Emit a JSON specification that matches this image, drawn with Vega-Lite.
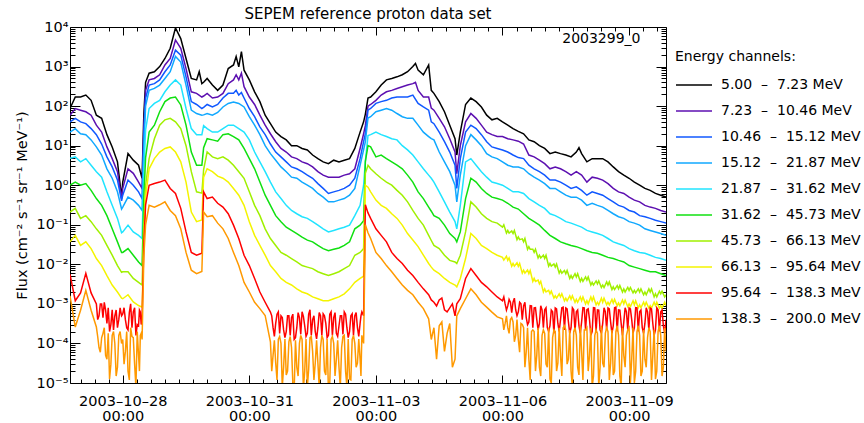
{
"$schema": "https://vega.github.io/schema/vega-lite/v6.json",
"width": 596, "height": 356,
"autosize": {"type": "none"},
"padding": {"left": 70, "top": 27, "right": 198, "bottom": 40},
"background": "white",
"title": {"text": "SEPEM reference proton data set", "fontSize": 15, "fontWeight": "normal", "color": "#000", "offset": -3, "anchor": "middle", "font": "DejaVu Sans"},
"config": {"font": "DejaVu Sans", "view": {"stroke": "#000", "strokeWidth": 1}, "axis": {"tickColor": "#000", "labelColor": "#000", "titleColor": "#000", "tickWidth": 1}},
"datasets": {
"channels": [
{"code":"a","name":"5.00\u00a0 –\u00a0 7.23 MeV"},
{"code":"b","name":"7.23\u00a0 –\u00a0 10.46 MeV"},
{"code":"c","name":"10.46\u00a0 –\u00a0 15.12 MeV"},
{"code":"d","name":"15.12\u00a0 –\u00a0 21.87 MeV"},
{"code":"e","name":"21.87\u00a0 –\u00a0 31.62 MeV"},
{"code":"f","name":"31.62\u00a0 –\u00a0 45.73 MeV"},
{"code":"g","name":"45.73\u00a0 –\u00a0 66.13 MeV"},
{"code":"h","name":"66.13\u00a0 –\u00a0 95.64 MeV"},
{"code":"i","name":"95.64\u00a0 –\u00a0 138.3 MeV"},
{"code":"j","name":"138.3\u00a0 –\u00a0 200.0 MeV"}
],
"tag": [{"t":"2003-11-09T06:30Z","v":5000,"label":"2003299_0"}],
"flux": [
{"t":"2003-10-26T18:00Z","a":87,"b":59,"c":40,"d":22,"e":4.8,"f":1.0,"g":0.21,"h":0.037,"i":0.0056,"j":0.0016},
{"t":"2003-10-26T21:00Z","a":170,"b":87,"c":49,"d":27,"e":5.2,"f":1.2,"g":0.26,"h":0.054,"i":0.0012,"j":0.00026},
{"t":"2003-10-27T00:00Z","a":170,"b":79,"c":40,"d":20,"e":3.9,"f":1.0,"g":0.145,"h":0.030,"i":0.0019,"j":0.00069},
{"t":"2003-10-27T03:00Z","a":190,"b":72,"c":36,"d":19,"e":4.7,"f":1.1,"g":0.17,"h":0.037,"i":0.0059,"j":0.0022},
{"t":"2003-10-27T06:00Z","a":140,"b":59,"c":27,"d":14,"e":3.2,"f":0.74,"g":0.12,"h":0.025,"i":0.0019,"j":0.00069},
{"t":"2003-10-27T09:00Z","a":59,"b":33,"c":19,"d":9.3,"e":2.2,"f":0.46,"g":0.079,"h":0.014,"i":0.001,"j":0.00026},
{"t":"2003-10-27T10:30Z","i":5.0e-4,"j":7.9e-5},
{"t":"2003-10-27T12:00Z","a":49,"b":22,"c":11,"d":5.8,"e":1.6,"f":0.31,"g":0.054,"h":0.0093,"i":0.001,"j":1.4e-4},
{"t":"2003-10-27T13:30Z","i":1.1e-3,"j":2.5e-4},
{"t":"2003-10-27T15:00Z","a":19,"b":9.3,"c":5.2,"d":2.6,"e":0.68,"f":0.17,"g":0.030,"h":0.0052,"i":3.2e-4,"j":4.0e-5},
{"t":"2003-10-27T16:30Z","i":2.0e-4,"j":1.26e-5},
{"t":"2003-10-27T18:00Z","a":9.3,"b":4.7,"c":2.9,"d":1.5,"e":0.31,"f":0.079,"g":0.017,"h":0.003,"i":7.1e-4,"j":1.6e-4},
{"t":"2003-10-27T19:30Z","i":5.0e-4,"j":1.0e-4},
{"t":"2003-10-27T21:00Z","a":3.9,"b":2.2,"c":1.35,"d":0.68,"e":0.145,"f":0.037,"g":0.0093,"h":0.002,"i":2.5e-4,"j":2.5e-5},
{"t":"2003-10-27T22:30Z","i":7.9e-4,"j":2.0e-4},
{"t":"2003-10-27T23:20Z","a":0.5,"b":0.46,"c":0.4,"d":0.25,"e":0.063,"f":0.02,"g":0.0063,"h":0.0014,"i":5.0e-4,"j":1.0e-4},
{"t":"2003-10-28T00:00Z","a":1.2,"b":0.83,"c":0.56,"d":0.28,"e":0.066,"f":0.02,"g":0.0065,"h":0.00135,"i":5.6e-4,"j":1.26e-4},
{"t":"2003-10-28T01:30Z","i":4.0e-4,"j":6.3e-5},
{"t":"2003-10-28T03:00Z","a":6.3,"b":2.6,"c":1.35,"d":0.5,"e":0.098,"f":0.025,"g":0.0065,"h":0.0017,"i":2.2e-4,"j":2.0e-5},
{"t":"2003-10-28T04:30Z","i":1.0e-3,"j":2.5e-4},
{"t":"2003-10-28T06:00Z","a":4.3,"b":2.0,"c":1.0,"d":0.42,"e":0.066,"f":0.017,"g":0.0044,"h":0.00112,"i":6.3e-4,"j":1.4e-4},
{"t":"2003-10-28T07:30Z","i":1.6e-4,"j":7.9e-6},
{"t":"2003-10-28T09:00Z","a":3.2,"b":1.2,"c":0.68,"d":0.31,"e":0.054,"f":0.0115,"g":0.0035,"h":9.1e-4,"i":2.8e-4,"j":5.0e-5},
{"t":"2003-10-28T10:00Z","i":6.3e-4,"j":1.6e-4},
{"t":"2003-10-28T11:00Z","a":1.5,"b":0.83,"c":0.46,"d":0.23,"e":0.045,"f":0.0093,"g":0.003,"h":8.3e-4,"i":4.5e-4,"j":1.26e-4},
{"t":"2003-10-28T12:00Z","a":63,"b":32,"c":20,"d":10,"e":2.5,"f":0.5,"g":0.1,"h":0.032,"i":0.032,"j":0.016},
{"t":"2003-10-28T13:00Z","a":400,"b":250,"c":160,"d":100,"e":25,"f":5.0,"g":1.0,"h":0.5,"i":0.32,"j":0.1},
{"t":"2003-10-28T15:00Z","a":680,"b":460,"c":340,"d":250,"e":87,"f":22,"g":4.7,"h":2.6,"i":1.0,"j":0.31},
{"t":"2003-10-28T18:00Z","a":740,"b":500,"c":370,"d":280,"e":117,"f":33,"g":15,"h":4.7,"i":1.1,"j":0.28},
{"t":"2003-10-28T21:00Z","a":1000,"b":620,"c":460,"d":340,"e":140,"f":72,"g":33,"h":6.9,"i":1.2,"j":0.32},
{"t":"2003-10-29T00:00Z","a":1600,"b":1100,"c":740,"d":500,"e":230,"f":130,"g":45,"h":8.5,"i":1.35,"j":0.38},
{"t":"2003-10-29T03:00Z","a":2900,"b":1600,"c":1100,"d":740,"e":340,"f":160,"g":49,"h":9.3,"i":0.83,"j":0.23},
{"t":"2003-10-29T06:00Z","a":9500,"b":4700,"c":2600,"d":1800,"e":460,"f":170,"g":40,"h":6.9,"i":0.62,"j":0.17},
{"t":"2003-10-29T09:00Z","a":5100,"b":2900,"c":1950,"d":1300,"e":340,"f":107,"g":27,"h":3.9,"i":0.26,"j":0.079},
{"t":"2003-10-29T12:00Z","a":1600,"b":890,"c":550,"d":340,"e":87,"f":33,"g":10,"h":1.2,"i":0.066,"j":0.02},
{"t":"2003-10-29T15:00Z","a":500,"b":230,"c":130,"d":79,"e":27,"f":6.9,"g":2.2,"h":0.21,"i":0.02,"j":0.0071},
{"t":"2003-10-29T18:00Z","a":460,"b":210,"c":110,"d":65,"e":19,"f":3.2,"g":0.68,"h":0.12,"i":0.017,"j":0.0058},
{"t":"2003-10-29T19:30Z","a":740},
{"t":"2003-10-29T21:00Z","a":370,"b":170,"c":87,"d":59,"e":19,"f":3.2,"g":0.63,"h":0.132,"i":0.019,"j":0.0066},
{"t":"2003-10-29T22:00Z","a":400,"b":180,"c":93,"d":60,"e":32,"f":8.9,"g":2.5,"h":1.6,"i":0.68,"j":0.21},
{"t":"2003-10-30T00:00Z","a":500,"b":210,"c":110,"d":65,"e":27,"f":15,"g":6.9,"h":2.6,"i":0.46,"j":0.16},
{"t":"2003-10-30T03:00Z","a":340,"b":160,"c":95,"d":59,"e":22,"f":14,"g":5.2,"h":2.2,"i":0.5,"j":0.17},
{"t":"2003-10-30T06:00Z","a":250,"b":170,"c":110,"d":69,"e":22,"f":13,"g":4.7,"h":1.7,"i":0.35,"j":0.11},
{"t":"2003-10-30T09:00Z","a":340,"b":210,"c":160,"d":95,"e":27,"f":19,"g":5.2,"h":1.5,"i":0.28,"j":0.079},
{"t":"2003-10-30T12:00Z","a":890,"b":370,"c":210,"d":117,"e":33,"f":20,"g":4.3,"h":1.2,"i":0.19,"j":0.045},
{"t":"2003-10-30T15:00Z","a":1100,"b":460,"c":210,"d":126,"e":33,"f":17,"g":3.2,"h":0.83,"i":0.098,"j":0.02},
{"t":"2003-10-30T16:30Z","a":1800,"b":620,"c":250},
{"t":"2003-10-30T18:00Z","a":980,"b":460,"c":190,"d":117,"e":27,"f":14,"g":2.2,"h":0.56,"i":0.045,"j":0.0093},
{"t":"2003-10-30T19:30Z","a":2400,"b":680,"c":220},
{"t":"2003-10-30T21:00Z","a":810,"b":310,"c":160,"d":95,"e":22,"f":8.5,"g":1.5,"h":0.31,"i":0.017,"j":0.0035},
{"t":"2003-10-31T00:00Z","a":460,"b":170,"c":87,"d":54,"e":14,"f":4.7,"g":0.68,"h":0.12,"i":0.0093,"j":0.002},
{"t":"2003-10-31T03:00Z","a":230,"b":110,"c":54,"d":33,"e":6.9,"f":2.6,"g":0.31,"h":0.054,"i":0.0044,"j":0.0011},
{"t":"2003-10-31T06:00Z","a":130,"b":59,"c":30,"d":19,"e":3.9,"f":1.2,"g":0.17,"h":0.030,"i":0.002,"j":7.6e-4},
{"t":"2003-10-31T09:00Z","a":59,"b":33,"c":19,"d":10,"e":2.2,"f":0.56,"g":0.079,"h":0.017,"i":0.0011,"j":5.1e-4},
{"t":"2003-10-31T12:00Z","a":36,"b":20,"c":11,"d":6.3,"e":1.2,"f":0.31,"g":0.045,"h":0.0093,"i":6.2e-4,"j":1.1e-4},
{"t":"2003-10-31T13:30Z","i":2.5e-4,"j":5.0e-5},
{"t":"2003-10-31T15:00Z","a":22,"b":12.6,"c":6.9,"d":4.3,"e":0.68,"f":0.17,"g":0.030,"h":0.0065,"i":3.2e-4,"j":3.2e-5},
{"t":"2003-10-31T16:30Z","i":6.3e-4,"j":1.26e-4},
{"t":"2003-10-31T18:00Z","a":17,"b":8.5,"c":5.2,"d":2.9,"e":0.46,"f":0.12,"g":0.020,"h":0.0044,"i":5.0e-4,"j":1.0e-4},
{"t":"2003-10-31T19:30Z","i":2.2e-4,"j":2.5e-5},
{"t":"2003-10-31T21:00Z","a":14,"b":6.9,"c":3.9,"d":2.2,"e":0.31,"f":0.087,"g":0.017,"h":0.0035,"i":2.0e-4,"j":1.6e-5},
{"t":"2003-10-31T22:30Z","i":5.0e-4,"j":1.1e-4},
{"t":"2003-11-01T00:00Z","a":10,"b":5.2,"c":2.9,"d":1.6,"e":0.23,"f":0.072,"g":0.014,"h":0.003,"i":4.5e-4,"j":7.9e-5},
{"t":"2003-11-01T01:30Z","i":1.26e-4,"j":6.3e-6},
{"t":"2003-11-01T03:00Z","a":10,"b":4.7,"c":2.6,"d":1.5,"e":0.19,"f":0.06,"g":0.0115,"h":0.0024,"i":2.5e-4,"j":2.5e-5},
{"t":"2003-11-01T04:30Z","i":4.5e-4,"j":1.0e-4},
{"t":"2003-11-01T06:00Z","a":8.5,"b":3.9,"c":2.2,"d":1.2,"e":0.16,"f":0.049,"g":0.0093,"h":0.002,"i":6.3e-4,"j":1.26e-4},
{"t":"2003-11-01T07:30Z","i":2.8e-4,"j":2.0e-5},
{"t":"2003-11-01T09:00Z","a":7.8,"b":3.5,"c":1.8,"d":1.0,"e":0.145,"f":0.041,"g":0.0085,"h":0.0018,"i":1.8e-4,"j":7.9e-6},
{"t":"2003-11-01T10:30Z","i":7.1e-4,"j":1.4e-4},
{"t":"2003-11-01T12:00Z","a":5.8,"b":2.9,"c":1.5,"d":0.83,"e":0.12,"f":0.037,"g":0.0078,"h":0.0015,"i":4.0e-4,"j":6.3e-5},
{"t":"2003-11-01T13:30Z","i":2.0e-4,"j":3.2e-5},
{"t":"2003-11-01T15:00Z","a":4.7,"b":2.2,"c":1.1,"d":0.62,"e":0.098,"f":0.030,"g":0.0065,"h":0.00135,"i":2.5e-4,"j":3.2e-5},
{"t":"2003-11-01T16:30Z","i":5.0e-4,"j":7.9e-5},
{"t":"2003-11-01T18:00Z","a":3.9,"b":1.8,"c":0.83,"d":0.5,"e":0.079,"f":0.025,"g":0.0058,"h":0.0012,"i":5.6e-4,"j":1.26e-4},
{"t":"2003-11-01T19:30Z","i":3.2e-4,"j":1.6e-5},
{"t":"2003-11-01T21:00Z","a":3.5,"b":1.6,"c":0.62,"d":0.38,"e":0.066,"f":0.022,"g":0.0052,"h":0.0012,"i":1.6e-4,"j":6.3e-6},
{"t":"2003-11-01T22:30Z","i":6.3e-4,"j":1.26e-4},
{"t":"2003-11-02T00:00Z","a":4.3,"b":1.6,"c":0.68,"d":0.38,"e":0.072,"f":0.024,"g":0.0058,"h":0.00135,"i":4.5e-4,"j":1.0e-4},
{"t":"2003-11-02T01:30Z","i":1.8e-4,"j":4.0e-5},
{"t":"2003-11-02T03:00Z","a":3.9,"b":1.6,"c":0.74,"d":0.42,"e":0.079,"f":0.026,"g":0.0065,"h":0.0015,"i":2.8e-4,"j":2.5e-5},
{"t":"2003-11-02T04:30Z","i":5.0e-4,"j":7.9e-5},
{"t":"2003-11-02T06:00Z","a":4.3,"b":1.8,"c":0.83,"d":0.46,"e":0.087,"f":0.030,"g":0.0078,"h":0.0018,"i":6.3e-4,"j":1.6e-4},
{"t":"2003-11-02T07:30Z","i":2.5e-4,"j":7.9e-6},
{"t":"2003-11-02T09:00Z","a":4.7,"b":1.95,"c":1.0,"d":0.56,"e":0.098,"f":0.037,"g":0.0093,"h":0.0024,"i":2.0e-4,"j":1.26e-5},
{"t":"2003-11-02T10:30Z","i":5.6e-4,"j":1.26e-4},
{"t":"2003-11-02T12:00Z","a":8.5,"b":2.6,"c":1.5,"d":0.83,"e":0.17,"f":0.079,"g":0.017,"h":0.0035,"i":5.0e-4,"j":1.0e-4},
{"t":"2003-11-02T13:30Z","i":2.5e-4,"j":3.2e-5},
{"t":"2003-11-02T15:00Z","a":22,"b":8.5,"c":4.7,"d":3.2,"e":0.31,"f":0.098,"g":0.020,"h":0.0044,"i":3.2e-4,"j":4.0e-5},
{"t":"2003-11-02T16:00Z","i":6.3e-4,"j":1.6e-4},
{"t":"2003-11-02T17:00Z","a":40,"b":20,"c":12.6,"d":7.9,"e":1.0,"f":0.126,"g":0.025,"h":0.005,"i":5.0e-4,"j":1.0e-4},
{"t":"2003-11-02T18:00Z","a":63,"b":32,"c":20,"d":12.6,"e":4.0,"f":4.0,"g":2.0,"h":1.0,"i":0.32,"j":0.1},
{"t":"2003-11-02T19:30Z","a":160,"b":100,"c":79,"d":50,"e":18,"f":10,"g":3.2,"h":0.89,"i":0.2,"j":0.063},
{"t":"2003-11-02T21:00Z","a":170,"b":110,"c":87,"d":54,"e":19,"f":9.3,"g":2.6,"h":0.68,"i":0.145,"j":0.045},
{"t":"2003-11-03T00:00Z","a":230,"b":140,"c":117,"d":72,"e":22,"f":5.2,"g":1.95,"h":0.42,"i":0.079,"j":0.02},
{"t":"2003-11-03T03:00Z","a":340,"b":190,"c":130,"d":79,"e":19,"f":5.8,"g":1.5,"h":0.31,"i":0.054,"j":0.014},
{"t":"2003-11-03T06:00Z","a":460,"b":230,"c":140,"d":87,"e":17,"f":4.7,"g":1.2,"h":0.26,"i":0.037,"j":0.0093},
{"t":"2003-11-03T09:00Z","a":500,"b":250,"c":160,"d":79,"e":15,"f":3.9,"g":1.0,"h":0.19,"i":0.02,"j":0.0065},
{"t":"2003-11-03T12:00Z","a":550,"b":280,"c":170,"d":65,"e":14,"f":3.2,"g":0.74,"h":0.145,"i":0.014,"j":0.0044},
{"t":"2003-11-03T15:00Z","a":620,"b":310,"c":170,"d":54,"e":10,"f":2.6,"g":0.56,"h":0.098,"i":0.0105,"j":0.003},
{"t":"2003-11-03T18:00Z","a":740,"b":340,"c":170,"d":49,"e":7.8,"f":1.8,"g":0.38,"h":0.06,"i":0.0071,"j":0.0022},
{"t":"2003-11-03T21:00Z","a":1000,"b":370,"c":190,"d":49,"e":5.8,"f":1.2,"g":0.23,"h":0.041,"i":0.0052,"j":0.0017},
{"t":"2003-11-03T22:30Z","a":1200,"b":400},
{"t":"2003-11-04T00:00Z","a":810,"b":250,"c":117,"d":33,"e":3.9,"f":0.68,"g":0.145,"h":0.028,"i":0.0035,"j":0.0011},
{"t":"2003-11-04T03:00Z","a":620,"b":170,"c":95,"d":22,"e":2.6,"f":0.46,"g":0.098,"h":0.017,"i":0.0024,"j":7.6e-4},
{"t":"2003-11-04T06:00Z","a":1100,"b":170,"c":79,"d":17,"e":1.8,"f":0.28,"g":0.054,"h":0.0105,"i":0.0017,"j":4.2e-4},
{"t":"2003-11-04T07:30Z","a":250,"b":89,"c":40,"d":15,"e":1.5,"f":0.22,"g":0.040,"h":0.0085,"i":0.00126,"j":1.26e-4},
{"t":"2003-11-04T09:00Z","a":210,"b":79,"c":36,"d":14,"e":1.2,"f":0.17,"g":0.030,"h":0.0071,"i":0.0011,"j":2.5e-4},
{"t":"2003-11-04T10:30Z","i":8.9e-4,"j":4.0e-5},
{"t":"2003-11-04T12:00Z","a":130,"b":49,"c":22,"d":6.9,"e":0.68,"f":0.145,"g":0.025,"h":0.0058,"i":0.00126,"j":2.8e-4},
{"t":"2003-11-04T13:30Z","i":0.0014,"j":3.5e-4},
{"t":"2003-11-04T15:00Z","a":72,"b":30,"c":12.6,"d":3.9,"e":0.38,"f":0.098,"g":0.017,"h":0.0044,"i":7.1e-4,"j":6.3e-5},
{"t":"2003-11-04T16:30Z","i":6.3e-4,"j":1.8e-4},
{"t":"2003-11-04T18:00Z","a":33,"b":15,"c":6.9,"d":2.2,"e":0.21,"f":0.06,"g":0.0126,"h":0.0035,"i":7.9e-4,"j":3.2e-4},
{"t":"2003-11-04T19:30Z","i":0.001,"j":2.5e-5},
{"t":"2003-11-04T21:00Z","a":15,"b":6.9,"c":3.2,"d":1.0,"e":0.12,"f":0.045,"g":0.0115,"h":0.003,"i":5.0e-4,"j":4.0e-5},
{"t":"2003-11-04T22:00Z","a":5.8,"b":1.95,"c":0.83,"d":0.38,"e":0.079,"f":0.037,"g":0.0105,"h":0.0027,"i":0.001,"j":5.0e-4},
{"t":"2003-11-05T00:00Z","a":22,"b":10,"c":4.7,"d":1.8,"e":0.31,"f":0.066,"g":0.017,"h":0.0044,"i":0.00135,"j":7.6e-4},
{"t":"2003-11-05T03:00Z","a":110,"b":40,"c":22,"d":10,"e":3.9,"f":0.46,"g":0.066,"h":0.014,"i":0.0044,"j":0.00135},
{"t":"2003-11-05T06:00Z","a":160,"b":65,"c":33,"d":19,"e":4.7,"f":1.5,"g":0.38,"h":0.06,"i":0.0078,"j":0.0024},
{"t":"2003-11-05T09:00Z","a":130,"b":49,"c":27,"d":14,"e":3.2,"f":1.2,"g":0.28,"h":0.045,"i":0.0052,"j":0.0017},
{"t":"2003-11-05T12:00Z","a":95,"b":33,"c":19,"d":10,"e":2.2,"f":0.83,"g":0.19,"h":0.03,"i":0.0035,"j":0.0011},
{"t":"2003-11-05T15:00Z","a":59,"b":22,"c":12.6,"d":6.3,"e":1.6,"f":0.62,"g":0.145,"h":0.025,"i":0.0027,"j":8.3e-4},
{"t":"2003-11-05T18:00Z","a":45,"b":19,"c":9.3,"d":5.2,"e":1.2,"f":0.5,"g":0.12,"h":0.02,"i":0.002,"j":6.2e-4},
{"t":"2003-11-05T21:00Z","a":49,"b":17,"c":8.5,"d":4.7,"e":1.1,"f":0.46,"g":0.11,"h":0.017,"i":0.0015,"j":4.7e-4},
{"t":"2003-11-06T00:00Z","a":40,"b":17,"c":7.8,"d":3.9,"e":1.0,"f":0.42,"g":0.087,"h":0.015,"i":0.0012,"j":4.2e-4},
{"t":"2003-11-06T01:30Z","i":0.001,"j":3.2e-4},
{"t":"2003-11-06T03:00Z","a":33,"b":15,"c":6.9,"d":3.2,"e":0.83,"f":0.35,"g":0.072,"h":0.0126,"i":8.9e-4,"j":2.5e-4},
{"t":"2003-11-06T04:30Z","i":0.0011,"j":4.0e-4},
{"t":"2003-11-06T06:00Z","a":27,"b":14,"c":5.8,"d":2.9,"e":0.68,"f":0.28,"g":0.06,"h":0.0105,"i":0.0011,"j":3.5e-4},
{"t":"2003-11-06T07:30Z","i":7.1e-4,"j":1.6e-4},
{"t":"2003-11-06T09:00Z","a":23,"b":13,"c":5.0,"d":2.9,"e":0.68,"f":0.25,"g":0.049,"h":0.0089,"i":6.3e-4,"j":1.26e-4},
{"t":"2003-11-06T10:30Z","i":0.001,"j":3.2e-4},
{"t":"2003-11-06T12:00Z","a":20,"b":11,"c":4.7,"d":2.6,"e":0.62,"f":0.19,"g":0.037,"h":0.0071,"i":8.9e-4,"j":2.5e-4},
{"t":"2003-11-06T13:30Z","i":4.5e-4,"j":6.3e-5},
{"t":"2003-11-06T15:00Z","a":14,"b":5.8,"c":3.2,"d":1.95,"e":0.46,"f":0.145,"g":0.028,"h":0.0058,"i":3.5e-4,"j":4.0e-5},
{"t":"2003-11-06T16:30Z","i":8.9e-4,"j":2.0e-4},
{"t":"2003-11-06T18:00Z","a":12.6,"b":5.2,"c":2.6,"d":1.6,"e":0.38,"f":0.12,"g":0.02,"h":0.0044,"i":7.9e-4,"j":2.0e-4},
{"t":"2003-11-06T19:30Z","i":4.0e-4,"j":5.0e-5},
{"t":"2003-11-06T21:00Z","a":10,"b":4.3,"c":2.2,"d":1.35,"e":0.31,"f":0.098,"g":0.017,"h":0.0032,"i":3.2e-4,"j":2.5e-5},
{"t":"2003-11-06T22:30Z","i":7.1e-4,"j":1.6e-4},
{"t":"2003-11-07T00:00Z","a":8.5,"b":3.5,"c":1.8,"d":1.1,"e":0.26,"f":0.072,"g":0.014,"h":0.0024,"i":7.1e-4,"j":1.8e-4},
{"t":"2003-11-07T01:30Z","i":2.5e-4,"j":2.5e-5},
{"t":"2003-11-07T03:00Z","a":6.3,"b":2.6,"c":1.35,"d":0.83,"e":0.19,"f":0.054,"g":0.0105,"h":0.0018,"i":2.8e-4,"j":1.26e-5},
{"t":"2003-11-07T04:30Z","i":6.3e-4,"j":1.4e-4},
{"t":"2003-11-07T06:00Z","a":6.9,"b":2.9,"c":1.35,"d":0.83,"e":0.17,"f":0.045,"g":0.0085,"h":0.0016,"i":7.9e-4,"j":2.0e-4},
{"t":"2003-11-07T07:30Z","i":3.2e-4,"j":3.2e-5},
{"t":"2003-11-07T09:00Z","a":6.3,"b":2.6,"c":1.2,"d":0.68,"e":0.145,"f":0.037,"g":0.0071,"h":0.0015,"i":4.0e-4,"j":5.0e-5},
{"t":"2003-11-07T10:30Z","i":8.3e-4,"j":2.5e-4},
{"t":"2003-11-07T12:00Z","a":5.8,"b":2.2,"c":1.0,"d":0.56,"e":0.12,"f":0.033,"g":0.0058,"h":0.0014,"i":7.9e-4,"j":2.2e-4},
{"t":"2003-11-07T13:30Z","i":3.5e-4,"j":4.0e-5},
{"t":"2003-11-07T15:00Z","a":5.2,"b":1.8,"c":0.83,"d":0.5,"e":0.11,"f":0.03,"g":0.0052,"h":0.0013,"i":2.5e-4,"j":2.0e-5},
{"t":"2003-11-07T16:30Z","i":7.1e-4,"j":2.0e-4},
{"t":"2003-11-07T18:00Z","a":6.9,"b":2.2,"c":0.91,"d":0.5,"e":0.098,"f":0.028,"g":0.0048,"h":0.0013,"i":6.3e-4,"j":1.6e-4},
{"t":"2003-11-07T19:30Z","a":8.9,"i":2.8e-4,"j":1.6e-5},
{"t":"2003-11-07T21:00Z","a":6.3,"b":1.8,"c":0.74,"d":0.42,"e":0.087,"f":0.025,"g":0.0044,"h":0.0012,"i":3.5e-4,"j":6.3e-5},
{"t":"2003-11-07T22:30Z","i":7.9e-4,"j":2.2e-4},
{"t":"2003-11-08T00:00Z","a":3.9,"b":1.2,"c":0.56,"d":0.31,"e":0.072,"f":0.022,"g":0.004,"h":0.0012,"i":7.1e-4,"j":2.5e-4},
{"t":"2003-11-08T01:30Z","i":4.0e-4,"j":5.0e-5},
{"t":"2003-11-08T03:00Z","a":4.7,"b":1.6,"c":0.68,"d":0.35,"e":0.066,"f":0.02,"g":0.0035,"h":0.0012,"i":2.0e-4,"j":7.9e-6},
{"t":"2003-11-08T04:30Z","i":7.9e-4,"j":1.6e-4},
{"t":"2003-11-08T06:00Z","a":4.7,"b":1.5,"c":0.62,"d":0.31,"e":0.06,"f":0.019,"g":0.0032,"h":0.0011,"i":7.1e-4,"j":1.8e-4},
{"t":"2003-11-08T07:30Z","i":2.2e-4,"j":2.5e-5},
{"t":"2003-11-08T09:00Z","a":4.7,"b":1.35,"c":0.56,"d":0.28,"e":0.054,"f":0.017,"g":0.003,"h":0.0011,"i":3.2e-4,"j":3.2e-5},
{"t":"2003-11-08T10:30Z","i":6.3e-4,"j":1.8e-4},
{"t":"2003-11-08T12:00Z","a":3.9,"b":1.1,"c":0.46,"d":0.23,"e":0.045,"f":0.015,"g":0.003,"h":0.0011,"i":7.9e-4,"j":2.0e-4},
{"t":"2003-11-08T13:30Z","i":3.5e-4,"j":3.2e-5},
{"t":"2003-11-08T15:00Z","a":2.9,"b":0.83,"c":0.38,"d":0.19,"e":0.037,"f":0.014,"g":0.0027,"h":0.00105,"i":2.8e-4,"j":1.6e-5},
{"t":"2003-11-08T16:30Z","i":8.3e-4,"j":2.0e-4},
{"t":"2003-11-08T18:00Z","a":2.2,"b":0.68,"c":0.31,"d":0.16,"e":0.033,"f":0.0126,"g":0.0024,"h":0.00105,"i":7.1e-4,"j":1.6e-4},
{"t":"2003-11-08T19:30Z","i":3.2e-4,"j":7.9e-6},
{"t":"2003-11-08T21:00Z","a":1.8,"b":0.62,"c":0.28,"d":0.145,"e":0.03,"f":0.0115,"g":0.0024,"h":0.001,"i":3.5e-4,"j":5.0e-5},
{"t":"2003-11-08T22:30Z","i":6.3e-4,"j":1.6e-4},
{"t":"2003-11-09T00:00Z","a":1.5,"b":0.5,"c":0.23,"d":0.12,"e":0.025,"f":0.0093,"g":0.0022,"h":0.001,"i":7.9e-4,"j":2.5e-4},
{"t":"2003-11-09T01:30Z","i":4.0e-4,"j":4.0e-5},
{"t":"2003-11-09T03:00Z","a":1.2,"b":0.42,"c":0.21,"d":0.11,"e":0.022,"f":0.0085,"g":0.0022,"h":9.5e-4,"i":2.5e-4,"j":1.0e-5},
{"t":"2003-11-09T04:30Z","i":7.9e-4,"j":2.0e-4},
{"t":"2003-11-09T06:00Z","a":1.0,"b":0.38,"c":0.17,"d":0.098,"e":0.02,"f":0.0078,"g":0.002,"h":9.5e-4,"i":6.3e-4,"j":1.6e-4},
{"t":"2003-11-09T07:30Z","i":2.5e-4,"j":2.0e-5},
{"t":"2003-11-09T09:00Z","a":0.83,"b":0.31,"c":0.16,"d":0.079,"e":0.019,"f":0.0071,"g":0.002,"h":9.0e-4,"i":3.2e-4,"j":4.0e-5},
{"t":"2003-11-09T10:30Z","i":6.3e-4,"j":1.4e-4},
{"t":"2003-11-09T12:00Z","a":0.74,"b":0.28,"c":0.145,"d":0.072,"e":0.017,"f":0.0065,"g":0.002,"h":9.0e-4,"i":7.9e-4,"j":2.0e-4},
{"t":"2003-11-09T13:30Z","i":3.2e-4,"j":5.0e-5},
{"t":"2003-11-09T15:00Z","a":0.62,"b":0.26,"c":0.13,"d":0.066,"e":0.015,"f":0.0065,"g":0.0018,"h":9.0e-4,"i":2.2e-4,"j":1.26e-5},
{"t":"2003-11-09T16:30Z","i":7.1e-4,"j":2.0e-4},
{"t":"2003-11-09T18:00Z","a":0.56,"b":0.23,"c":0.12,"d":0.06,"e":0.014,"f":0.0058,"g":0.0018,"h":9.0e-4,"i":6.3e-4,"j":1.6e-4},
{"t":"2003-11-09T19:30Z","i":2.8e-4,"j":2.5e-5},
{"t":"2003-11-09T21:00Z","a":0.5,"b":0.21,"c":0.11,"d":0.054,"e":0.0126,"f":0.0052,"g":0.0017,"h":9.0e-4,"i":4.0e-4,"j":6.3e-5},
{"t":"2003-10-27T09:45Z","i":4e-4,"j":1.5e-4},
{"t":"2003-10-27T11:15Z","i":1e-3,"j":6e-5},
{"t":"2003-10-27T12:45Z","i":4.5e-4,"j":1.8e-4},
{"t":"2003-10-27T14:15Z","i":7e-4,"j":5e-5},
{"t":"2003-10-27T15:45Z","i":8e-4,"j":1.8e-4},
{"t":"2003-10-27T17:15Z","i":3e-4,"j":3e-5},
{"t":"2003-10-27T18:45Z","i":2.2e-4,"j":2e-4},
{"t":"2003-10-27T20:15Z","i":7e-4,"j":1.5e-5},
{"t":"2003-10-27T21:45Z","i":4e-4,"j":1.6e-4},
{"t":"2003-10-28T00:45Z","i":8e-4,"j":3e-5},
{"t":"2003-10-28T02:15Z","i":2.5e-4,"j":2e-4},
{"t":"2003-10-28T03:45Z","i":6e-4,"j":1.2e-5},
{"t":"2003-10-28T05:15Z","i":2.5e-4,"j":1.5e-4},
{"t":"2003-10-28T06:45Z","i":8e-4,"j":3e-5},
{"t":"2003-10-28T08:15Z","i":3e-4,"j":2e-4},
{"t":"2003-10-28T09:30Z","i":7e-4,"j":2e-5},
{"t":"2003-10-28T10:30Z","i":3e-4,"j":1.8e-4},
{"t":"2003-10-31T12:45Z","i":5e-4,"j":2e-5},
{"t":"2003-10-31T14:15Z","i":1.5e-4,"j":1.2e-4},
{"t":"2003-10-31T15:45Z","i":5.5e-4,"j":1.2e-5},
{"t":"2003-10-31T17:15Z","i":1.8e-4,"j":1.5e-4},
{"t":"2003-10-31T18:45Z","i":4.5e-4,"j":8e-6},
{"t":"2003-10-31T20:15Z","i":1.4e-4,"j":1.3e-4},
{"t":"2003-10-31T21:45Z","i":5e-4,"j":2e-5},
{"t":"2003-10-31T23:15Z","i":1.6e-4,"j":1.5e-4},
{"t":"2003-11-01T00:45Z","i":5.5e-4,"j":1e-5},
{"t":"2003-11-01T02:15Z","i":1.4e-4,"j":1.2e-4},
{"t":"2003-11-01T03:45Z","i":6e-4,"j":1.5e-5},
{"t":"2003-11-01T05:15Z","i":1.7e-4,"j":1.6e-4},
{"t":"2003-11-01T06:45Z","i":4.8e-4,"j":7e-6},
{"t":"2003-11-01T08:15Z","i":1.5e-4,"j":1.3e-4},
{"t":"2003-11-01T09:45Z","i":5.5e-4,"j":2.2e-5},
{"t":"2003-11-01T11:15Z","i":1.6e-4,"j":1.5e-4},
{"t":"2003-11-01T12:45Z","i":5e-4,"j":1.2e-5},
{"t":"2003-11-01T14:15Z","i":1.3e-4,"j":1.2e-4},
{"t":"2003-11-01T15:45Z","i":6e-4,"j":8e-6},
{"t":"2003-11-01T17:15Z","i":1.6e-4,"j":1.6e-4},
{"t":"2003-11-01T18:45Z","i":5e-4,"j":2e-5},
{"t":"2003-11-01T20:15Z","i":1.4e-4,"j":1.3e-4},
{"t":"2003-11-01T21:45Z","i":5.5e-4,"j":1e-5},
{"t":"2003-11-01T23:15Z","i":1.6e-4,"j":1.5e-4},
{"t":"2003-11-02T00:45Z","i":6e-4,"j":1.5e-5},
{"t":"2003-11-02T02:15Z","i":1.5e-4,"j":1.2e-4},
{"t":"2003-11-02T03:45Z","i":5e-4,"j":8e-6},
{"t":"2003-11-02T05:15Z","i":1.7e-4,"j":1.5e-4},
{"t":"2003-11-02T06:45Z","i":5.5e-4,"j":2e-5},
{"t":"2003-11-02T08:15Z","i":1.4e-4,"j":1.3e-4},
{"t":"2003-11-02T09:45Z","i":5e-4,"j":1.2e-5},
{"t":"2003-11-02T11:15Z","i":1.6e-4,"j":1.6e-4},
{"t":"2003-11-02T12:45Z","i":6e-4,"j":2.5e-5},
{"t":"2003-11-02T14:15Z","i":1.5e-4,"j":1.3e-4},
{"t":"2003-11-02T15:30Z","i":5e-4,"j":1.5e-5},
{"t":"2003-11-06T00:45Z","g":0.1,"h":0.0128,"i":1.5e-3,"j":2.2e-4},
{"t":"2003-11-06T02:15Z","g":0.062,"h":0.016,"i":7e-4,"j":5e-4},
{"t":"2003-11-06T03:45Z","g":0.062,"h":0.0145,"i":1.3e-3,"j":1.8e-4},
{"t":"2003-11-06T05:15Z","g":0.07,"h":0.009,"i":6e-4,"j":4.5e-4},
{"t":"2003-11-06T06:45Z","g":0.072,"h":0.009,"i":1.4e-3,"j":1.1e-4},
{"t":"2003-11-06T08:15Z","g":0.042,"h":0.011,"i":5e-4,"j":4e-4},
{"t":"2003-11-06T09:45Z","g":0.042,"h":0.0105,"i":1.1e-3,"j":6e-5},
{"t":"2003-11-06T11:15Z","g":0.044,"h":0.006,"i":4e-4,"j":3e-4},
{"t":"2003-11-06T12:45Z","g":0.045,"h":0.006,"i":1.1e-3,"j":2.5e-5},
{"t":"2003-11-06T14:15Z","g":0.024,"h":0.0072,"i":3e-4,"j":2.5e-4},
{"t":"2003-11-06T15:45Z","g":0.024,"h":0.007,"i":9e-4,"j":1.2e-5},
{"t":"2003-11-06T17:15Z","g":0.024,"h":0.0037,"i":2.5e-4,"j":2.2e-4},
{"t":"2003-11-06T18:45Z","g":0.024,"h":0.0037,"i":8e-4,"j":2e-5},
{"t":"2003-11-06T20:15Z","g":0.0145,"h":0.004,"i":2.2e-4,"j":2.5e-4},
{"t":"2003-11-06T21:45Z","g":0.0145,"h":0.0037,"i":9e-4,"j":1.5e-5},
{"t":"2003-11-06T23:15Z","g":0.017,"h":0.002,"i":2.5e-4,"j":2.2e-4},
{"t":"2003-11-07T00:45Z","g":0.017,"h":0.002,"i":8e-4,"j":3e-5},
{"t":"2003-11-07T02:15Z","g":0.009,"h":0.0022,"i":2e-4,"j":2.5e-4},
{"t":"2003-11-07T03:45Z","g":0.009,"h":0.0021,"i":7e-4,"j":1e-5},
{"t":"2003-11-07T05:15Z","g":0.0102,"h":0.0014,"i":1.8e-4,"j":2.2e-4},
{"t":"2003-11-07T06:45Z","g":0.0102,"h":0.0014,"i":7.5e-4,"j":2e-5},
{"t":"2003-11-07T08:15Z","g":0.006,"h":0.0018,"i":2e-4,"j":2.5e-4},
{"t":"2003-11-07T09:45Z","g":0.006,"h":0.0018,"i":8e-4,"j":1.5e-5},
{"t":"2003-11-07T11:15Z","g":0.007,"h":0.0012,"i":2.2e-4,"j":2.8e-4},
{"t":"2003-11-07T12:45Z","g":0.007,"h":0.0012,"i":7.5e-4,"j":3e-5},
{"t":"2003-11-07T14:15Z","g":0.0044,"h":0.0016,"i":1.8e-4,"j":2.2e-4},
{"t":"2003-11-07T15:45Z","g":0.0044,"h":0.0016,"i":8e-4,"j":8e-6},
{"t":"2003-11-07T17:15Z","g":0.0058,"h":0.0011,"i":2e-4,"j":2.5e-4},
{"t":"2003-11-07T18:45Z","g":0.0058,"h":0.0011,"i":7e-4,"j":2.5e-5},
{"t":"2003-11-07T20:15Z","g":0.0037,"h":0.0015,"i":1.8e-4,"j":2.8e-4},
{"t":"2003-11-07T21:45Z","g":0.0037,"h":0.0015,"i":8e-4,"j":1.2e-5},
{"t":"2003-11-07T23:15Z","g":0.0048,"h":0.001,"i":2.2e-4,"j":2.2e-4},
{"t":"2003-11-08T00:45Z","g":0.0048,"h":0.001,"i":7.5e-4,"j":2e-5},
{"t":"2003-11-08T02:15Z","g":0.003,"h":0.0015,"i":1.6e-4,"j":2.5e-4},
{"t":"2003-11-08T03:45Z","g":0.003,"h":0.0015,"i":8e-4,"j":1.5e-5},
{"t":"2003-11-08T05:15Z","g":0.0038,"h":0.00095,"i":2e-4,"j":2.2e-4},
{"t":"2003-11-08T06:45Z","g":0.0038,"h":0.00095,"i":7e-4,"j":8e-6},
{"t":"2003-11-08T08:15Z","g":0.0026,"h":0.0014,"i":1.8e-4,"j":2.8e-4},
{"t":"2003-11-08T09:45Z","g":0.0026,"h":0.0014,"i":8e-4,"j":2.5e-5},
{"t":"2003-11-08T11:15Z","g":0.0036,"h":0.00095,"i":2.2e-4,"j":2.5e-4},
{"t":"2003-11-08T12:45Z","g":0.0036,"h":0.00095,"i":7.5e-4,"j":1.2e-5},
{"t":"2003-11-08T14:15Z","g":0.0023,"h":0.0013,"i":1.8e-4,"j":2.2e-4},
{"t":"2003-11-08T15:45Z","g":0.0023,"h":0.0013,"i":8e-4,"j":2e-5},
{"t":"2003-11-08T17:15Z","g":0.0029,"h":0.0009,"i":2e-4,"j":2.8e-4},
{"t":"2003-11-08T18:45Z","g":0.0029,"h":0.0009,"i":7e-4,"j":1.5e-5},
{"t":"2003-11-08T20:15Z","g":0.002,"h":0.00125,"i":1.6e-4,"j":2.5e-4},
{"t":"2003-11-08T21:45Z","g":0.002,"h":0.00125,"i":8e-4,"j":2.5e-5},
{"t":"2003-11-08T23:15Z","g":0.0026,"h":0.00085,"i":2.2e-4,"j":2.2e-4},
{"t":"2003-11-09T00:45Z","g":0.0026,"h":0.00085,"i":7.5e-4,"j":1e-5},
{"t":"2003-11-09T02:15Z","g":0.0019,"h":0.0012,"i":1.8e-4,"j":2.5e-4},
{"t":"2003-11-09T03:45Z","g":0.0019,"h":0.0012,"i":8e-4,"j":2e-5},
{"t":"2003-11-09T05:15Z","g":0.0024,"h":0.0008,"i":2e-4,"j":2.8e-4},
{"t":"2003-11-09T06:45Z","g":0.0024,"h":0.0008,"i":7e-4,"j":1.5e-5},
{"t":"2003-11-09T08:15Z","g":0.0017,"h":0.0011,"i":1.8e-4,"j":2.2e-4},
{"t":"2003-11-09T09:45Z","g":0.0017,"h":0.0011,"i":8e-4,"j":2.5e-5},
{"t":"2003-11-09T11:15Z","g":0.0024,"h":0.00078,"i":2.2e-4,"j":2.5e-4},
{"t":"2003-11-09T12:45Z","g":0.0024,"h":0.00078,"i":7.5e-4,"j":1.2e-5},
{"t":"2003-11-09T14:15Z","g":0.0015,"h":0.0011,"i":1.6e-4,"j":2.2e-4},
{"t":"2003-11-09T15:45Z","g":0.0015,"h":0.0011,"i":8e-4,"j":2e-5},
{"t":"2003-11-09T17:15Z","g":0.0021,"h":0.00078,"i":2e-4,"j":2.8e-4},
{"t":"2003-11-09T18:45Z","g":0.0021,"h":0.00078,"i":7e-4,"j":1.5e-5},
{"t":"2003-11-09T20:15Z","g":0.0015,"h":0.0011,"i":1.8e-4,"j":2.5e-4}
]
},
"layer": [
{
"data": {"name": "flux"},
"transform": [
{"fold": ["a","b","c","d","e","f","g","h","i","j"], "as": ["code","flux"]},
{"filter": "isValid(datum.flux)"},
{"lookup": "code", "from": {"data": {"name": "channels"}, "key": "code", "fields": ["name"]}}
],
"mark": {"type": "line", "strokeWidth": 1.5, "clip": true},
"encoding": {
"x": {"field": "t", "type": "temporal",
"scale": {"type": "utc", "domain": [1067191200000, 1068411600000]},
"axis": {"orient": "bottom", "title": null, "domain": false, "grid": false,
"values": [1067212800000,1067241600000,1067270400000,1067299200000,1067328000000,1067356800000,1067385600000,1067414400000,1067443200000,1067472000000,1067500800000,1067529600000,1067558400000,1067587200000,1067616000000,1067644800000,1067673600000,1067702400000,1067731200000,1067760000000,1067788800000,1067817600000,1067846400000,1067875200000,1067904000000,1067932800000,1067961600000,1067990400000,1068019200000,1068048000000,1068076800000,1068105600000,1068134400000,1068163200000,1068192000000,1068220800000,1068249600000,1068278400000,1068307200000,1068336000000,1068364800000,1068393600000],
"tickSize": {"condition": {"test": "(datum.value - 1067299200000) % 259200000 == 0", "value": -8}, "value": -4},
"labelExpr": "(datum.value - 1067299200000) % 259200000 == 0 ? [utcFormat(datum.value, '%Y–%m–%d'), '00:00'] : ''",
"labelFontSize": 14.5, "labelFont": "DejaVu Sans", "labelPadding": 19, "labelOverlap": false, "labelFlush": false, "labelLineHeight": 15}},
"y": {"field": "flux", "type": "quantitative",
"scale": {"type": "log", "domain": [1e-5, 1e4]},
"axis": {"orient": "left", "domain": false, "grid": false,
"values": [1e-5,2e-5,3e-5,4e-5,5e-5,6e-5,7e-5,8e-5,9e-5,1e-4,2e-4,3e-4,4e-4,5e-4,6e-4,7e-4,8e-4,9e-4,0.001,0.002,0.003,0.004,0.005,0.006,0.007,0.008,0.009,0.01,0.02,0.03,0.04,0.05,0.06,0.07,0.08,0.09,0.1,0.2,0.3,0.4,0.5,0.6,0.7,0.8,0.9,1,2,3,4,5,6,7,8,9,10,20,30,40,50,60,70,80,90,100,200,300,400,500,600,700,800,900,1000,2000,3000,4000,5000,6000,7000,8000,9000,10000],
"tickSize": {"condition": {"test": "abs(log(datum.value)/LN10 - round(log(datum.value)/LN10)) < 0.001", "value": -10}, "value": -5},
"labelExpr": "abs(log(datum.value)/LN10 - round(log(datum.value)/LN10)) < 0.001 ? '10' + (round(log(datum.value)/LN10) < 0 ? '⁻' : '') + ['⁰','¹','²','³','⁴','⁵'][abs(round(log(datum.value)/LN10))] : ''",
"labelFontSize": 14.5, "labelFont": "DejaVu Sans", "labelPadding": 12, "labelOverlap": false,
"title": "Flux (cm⁻² s⁻¹ sr⁻¹ MeV⁻¹)", "titleFontSize": 14.5, "titleFontWeight": "normal", "titleFont": "DejaVu Sans", "titlePadding": 7}},
"color": {"field": "name", "type": "nominal",
"scale": {"domain": ["5.00\u00a0 –\u00a0 7.23 MeV","7.23\u00a0 –\u00a0 10.46 MeV","10.46\u00a0 –\u00a0 15.12 MeV","15.12\u00a0 –\u00a0 21.87 MeV","21.87\u00a0 –\u00a0 31.62 MeV","31.62\u00a0 –\u00a0 45.73 MeV","45.73\u00a0 –\u00a0 66.13 MeV","66.13\u00a0 –\u00a0 95.64 MeV","95.64\u00a0 –\u00a0 138.3 MeV","138.3\u00a0 –\u00a0 200.0 MeV"],
"range": ["#000000","#5c0fb0","#1058ff","#10a8ff","#20e4ff","#10e010","#a0f000","#f4f400","#ff0000","#ff9900"]},
"legend": {"orient": "none", "legendX": 605, "legendY": 23, "title": "Energy channels:", "titleFontSize": 14, "titleFontWeight": "normal", "titleFont": "DejaVu Sans", "titleColor": "#000", "titlePadding": 2,
"labelFontSize": 14, "labelFont": "DejaVu Sans", "labelColor": "#000", "labelLimit": 300, "labelOffset": 8,
"symbolType": "stroke", "symbolSize": 1296, "symbolStrokeWidth": 1.5, "rowPadding": -9.7, "padding": 0}}
}
},
{
"data": {"name": "tag"},
"mark": {"type": "text", "align": "right", "baseline": "middle", "fontSize": 14, "font": "DejaVu Sans", "color": "#000"},
"encoding": {
"x": {"field": "t", "type": "temporal",
"scale": {"type": "utc", "domain": [1067191200000, 1068411600000]},
"axis": {"orient": "top", "title": null, "domain": false, "grid": false, "labels": false,
"values": [1067212800000,1067241600000,1067270400000,1067299200000,1067328000000,1067356800000,1067385600000,1067414400000,1067443200000,1067472000000,1067500800000,1067529600000,1067558400000,1067587200000,1067616000000,1067644800000,1067673600000,1067702400000,1067731200000,1067760000000,1067788800000,1067817600000,1067846400000,1067875200000,1067904000000,1067932800000,1067961600000,1067990400000,1068019200000,1068048000000,1068076800000,1068105600000,1068134400000,1068163200000,1068192000000,1068220800000,1068249600000,1068278400000,1068307200000,1068336000000,1068364800000,1068393600000],
"tickSize": {"condition": {"test": "(datum.value - 1067299200000) % 259200000 == 0", "value": -8}, "value": -4}}},
"y": {"field": "v", "type": "quantitative",
"scale": {"type": "log", "domain": [1e-5, 1e4]},
"axis": {"orient": "right", "title": null, "domain": false, "grid": false, "labels": false,
"values": [1e-5,2e-5,3e-5,4e-5,5e-5,6e-5,7e-5,8e-5,9e-5,1e-4,2e-4,3e-4,4e-4,5e-4,6e-4,7e-4,8e-4,9e-4,0.001,0.002,0.003,0.004,0.005,0.006,0.007,0.008,0.009,0.01,0.02,0.03,0.04,0.05,0.06,0.07,0.08,0.09,0.1,0.2,0.3,0.4,0.5,0.6,0.7,0.8,0.9,1,2,3,4,5,6,7,8,9,10,20,30,40,50,60,70,80,90,100,200,300,400,500,600,700,800,900,1000,2000,3000,4000,5000,6000,7000,8000,9000,10000],
"tickSize": {"condition": {"test": "abs(log(datum.value)/LN10 - round(log(datum.value)/LN10)) < 0.001", "value": -10}, "value": -5}}},
"text": {"field": "label"}
}
}
],
"resolve": {"axis": {"x": "independent", "y": "independent"}}
}
